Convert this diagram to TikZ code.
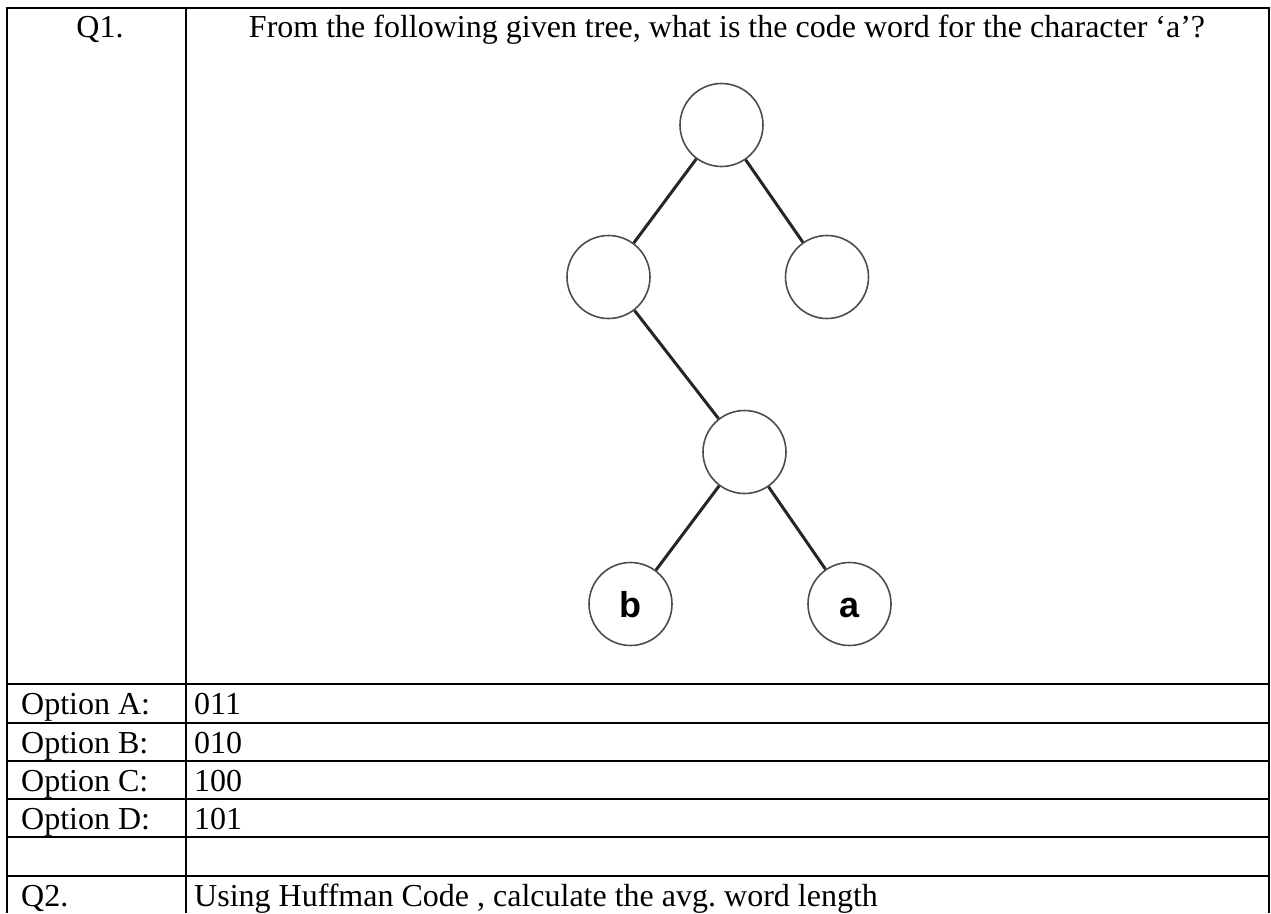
\documentclass[tikz,border=0pt]{standalone}
\usepackage{fontspec}
\setmainfont{Liberation Serif}
\newfontfamily\labelfont{Liberation Sans}
\usetikzlibrary{positioning}
\frenchspacing

\begin{document}
\begin{tikzpicture}[
    x=1pt, y=-1pt,
    grid/.style={draw=black, line width=2.8pt},
    cell/.style={anchor=base west, inner sep=0pt, font=\fontsize{32}{37}\selectfont},
    vertex/.style={circle, draw=black!70, line width=1.6pt, minimum size=83pt, inner sep=0pt,
        text height=26pt, text depth=0pt, font=\labelfont\bfseries\fontsize{36}{36}\selectfont},
    edge/.style={draw=black!85, line width=3pt}
]

\useasboundingbox (0, 0) rectangle (1271, 913);

% Table rules
\draw[grid] (7, 913) -- (7, 8) -- (1269, 8) -- (1269, 913);
\draw[grid] (186, 8) -- (186, 913);
\draw[grid] (7, 684) -- (1269, 684);
\draw[grid] (7, 723) -- (1269, 723);
\draw[grid] (7, 761) -- (1269, 761);
\draw[grid] (7, 799) -- (1269, 799);
\draw[grid] (7, 837) -- (1269, 837);
\draw[grid] (7, 876) -- (1269, 876);

% Question row
\node[cell, anchor=base] (qone) at (100, 37) {Q1.};
\node[cell, anchor=base] (qtext) at (727, 37) {From the following given tree, what is the code word for the character ‘a’?};

% The tree
\node[vertex] (root) at (721.5, 125) {};
\node[vertex] (left) at (608.5, 277) {};
\node[vertex] (right) at (827, 277) {};
\node[vertex] (mid) at (744.5, 452) {};
\node[vertex] (leafb) at (630.5, 604) {b};
\node[vertex] (leafa) at (849.5, 604) {a};

\draw[edge] (root) -- (left);
\draw[edge] (root) -- (right);
\draw[edge] (left) -- (mid);
\draw[edge] (mid) -- (leafb);
\draw[edge] (mid) -- (leafa);

% Options
\node[cell] (opta) at (21, 714) {Option A:};
\node[cell] (vala) at (194, 714) {011};
\node[cell] (optb) at (21, 753) {Option B:};
\node[cell] (valb) at (194, 753) {010};
\node[cell] (optc) at (21, 791) {Option C:};
\node[cell] (valc) at (194, 791) {100};
\node[cell] (optd) at (21, 829) {Option D:};
\node[cell] (vald) at (194, 829) {101};

% Next question
\node[cell] (qtwo) at (21, 906) {Q2.};
\node[cell] (qtwotext) at (194, 906) {Using Huffman Code , calculate the avg. word length};

\end{tikzpicture}
\end{document}
